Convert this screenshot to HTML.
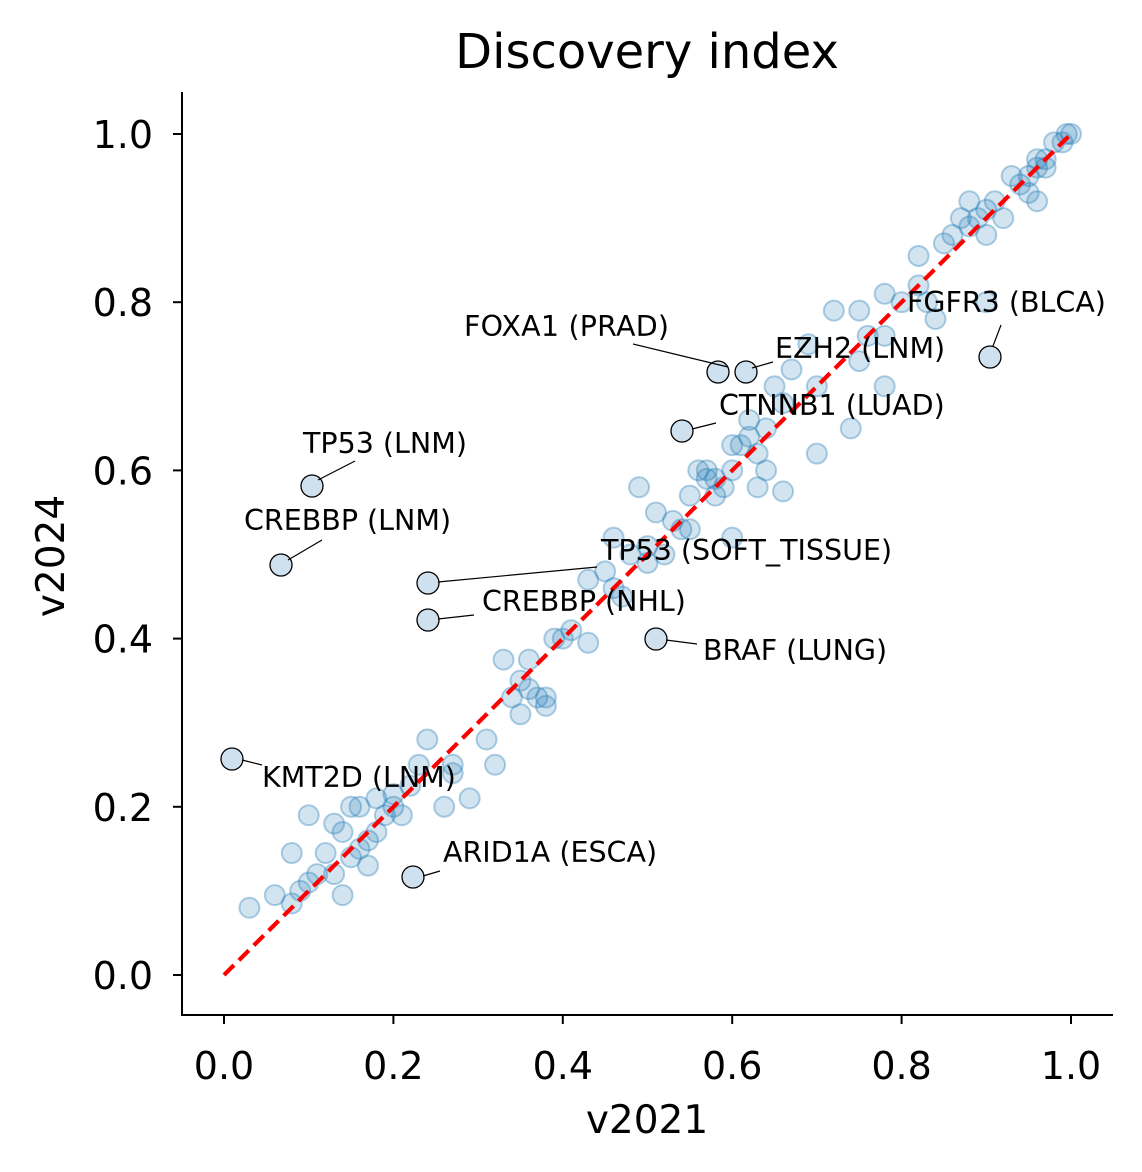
<!DOCTYPE html>
<html><head><meta charset="utf-8"><style>
body{margin:0;background:#fff}
svg{display:block;font-family:"DejaVu Sans","Liberation Sans",sans-serif}
</style></head><body>
<svg id="s" width="1142" height="1172" viewBox="0 0 1142 1172" xmlns="http://www.w3.org/2000/svg">
<rect width="1142" height="1172" fill="#fff"/>
<g id="pts"></g>
<line x1="224" y1="975" x2="1071" y2="134" stroke="#ff0000" stroke-width="4.2" stroke-dasharray="14,7"/>
<g id="hl"></g>
<g stroke="#000" stroke-width="1.2" fill="none">
<line x1="728" y1="367" x2="633" y2="344"/>
<line x1="752" y1="368" x2="773" y2="362"/>
<line x1="993" y1="346" x2="1001" y2="325"/>
<line x1="692" y1="429" x2="716" y2="423"/>
<line x1="318" y1="480" x2="355" y2="461"/>
<line x1="288" y1="560" x2="322" y2="540"/>
<line x1="438" y1="582" x2="597" y2="567"/>
<line x1="438" y1="619" x2="474" y2="615"/>
<line x1="666" y1="640" x2="697" y2="644"/>
<line x1="242" y1="760" x2="262" y2="765"/>
<line x1="423" y1="876" x2="440" y2="871"/>
</g>
<g font-size="28.5" fill="#000">
<text x="464" y="336" textLength="205">FOXA1 (PRAD)</text>
<text x="775" y="358">EZH2 (LNM)</text>
<text x="907" y="312">FGFR3 (BLCA)</text>
<text x="719" y="415">CTNNB1 (LUAD)</text>
<text x="303" y="453">TP53 (LNM)</text>
<text x="244" y="530">CREBBP (LNM)</text>
<text x="601" y="560">TP53 (SOFT_TISSUE)</text>
<text x="482" y="611">CREBBP (NHL)</text>
<text x="703" y="660">BRAF (LUNG)</text>
<text x="262" y="787">KMT2D (LNM)</text>
<text x="443" y="862">ARID1A (ESCA)</text>
</g>
<g stroke="#000" stroke-width="2" fill="none">
<line x1="182" y1="92" x2="182" y2="1016"/>
<line x1="181" y1="1015" x2="1113" y2="1015"/>
</g>
<g id="ticks" stroke="#000" stroke-width="2"></g>
<g id="tl" font-size="38" fill="#000"></g>
<text x="647" y="68" font-size="48" text-anchor="middle">Discovery index</text>
<text x="647" y="1133" font-size="39" text-anchor="middle">v2021</text>
<text x="0" y="0" font-size="39" text-anchor="middle" transform="translate(64,556) rotate(-90)">v2024</text>
</svg>
<script>
var NS="http://www.w3.org/2000/svg";
function X(v){return 224+847*v}function Y(v){return 975-841*v}
function el(t,a,p){var e=document.createElementNS(NS,t);for(var k in a)e.setAttribute(k,a[k]);document.getElementById(p).appendChild(e);return e}
var d=[[0.03,0.08],[0.06,0.095],[0.08,0.085],[0.09,0.1],[0.1,0.11],[0.11,0.12],[0.12,0.145],[0.08,0.145],[0.1,0.19],[0.13,0.18],[0.14,0.17],[0.15,0.2],[0.16,0.2],[0.17,0.16],[0.18,0.21],[0.19,0.19],[0.2,0.2],[0.21,0.19],[0.16,0.15],[0.17,0.13],[0.15,0.14],[0.13,0.12],[0.14,0.095],[0.18,0.17],[0.22,0.225],[0.23,0.25],[0.24,0.28],[0.26,0.2],[0.27,0.25],[0.29,0.21],[0.31,0.28],[0.32,0.25],[0.33,0.375],[0.34,0.33],[0.35,0.31],[0.36,0.375],[0.36,0.34],[0.37,0.33],[0.38,0.32],[0.38,0.33],[0.35,0.35],[0.39,0.4],[0.4,0.4],[0.41,0.41],[0.43,0.395],[0.43,0.47],[0.45,0.48],[0.46,0.46],[0.47,0.45],[0.46,0.52],[0.48,0.5],[0.49,0.58],[0.5,0.51],[0.51,0.55],[0.52,0.5],[0.53,0.54],[0.54,0.53],[0.55,0.57],[0.56,0.6],[0.57,0.59],[0.58,0.57],[0.59,0.58],[0.6,0.6],[0.61,0.63],[0.62,0.64],[0.63,0.62],[0.64,0.6],[0.63,0.58],[0.65,0.7],[0.66,0.68],[0.66,0.575],[0.6,0.52],[0.67,0.72],[0.69,0.75],[0.7,0.7],[0.7,0.62],[0.72,0.79],[0.74,0.65],[0.75,0.73],[0.75,0.79],[0.76,0.76],[0.78,0.76],[0.78,0.81],[0.78,0.7],[0.8,0.8],[0.82,0.82],[0.82,0.855],[0.83,0.8],[0.84,0.78],[0.85,0.87],[0.86,0.88],[0.87,0.9],[0.88,0.92],[0.88,0.89],[0.89,0.9],[0.9,0.91],[0.9,0.88],[0.91,0.92],[0.92,0.9],[0.93,0.95],[0.94,0.94],[0.95,0.95],[0.95,0.93],[0.96,0.92],[0.96,0.96],[0.97,0.96],[0.98,0.99],[0.99,0.99],[1,1],[0.995,1],[0.9,0.8],[0.96,0.97],[0.97,0.97],[0.55,0.53],[0.62,0.66],[0.64,0.65],[0.5,0.49],[0.2,0.215],[0.27,0.24],[0.6,0.63],[0.58,0.59],[0.57,0.6]];
d.forEach(function(p){el("circle",{cx:X(p[0]),cy:Y(p[1]),r:10,fill:"rgba(31,119,180,0.2)",stroke:"rgba(31,119,180,0.35)","stroke-width":2},"pts")});
[[718,372],[746,372],[990,357],[682,431],[312,486],[281,565],[428,583],[428,620],[656,639],[232,759],[413,877]].forEach(function(p){el("circle",{cx:p[0],cy:p[1],r:11,fill:"#cfe0ee",stroke:"#000","stroke-width":1.3},"hl")});
for(var i=0;i<=5;i++){var v=i*0.2,x=X(v),y=Y(v);
el("line",{x1:x,y1:1015,x2:x,y2:1024},"ticks");el("line",{x1:173,y1:y,x2:182,y2:y},"ticks");
var t=el("text",{x:x,y:1079,"text-anchor":"middle"},"tl");t.textContent=v.toFixed(1);
var u=el("text",{x:153,y:y+14,"text-anchor":"end"},"tl");u.textContent=v.toFixed(1);}
</script>
</body></html>
